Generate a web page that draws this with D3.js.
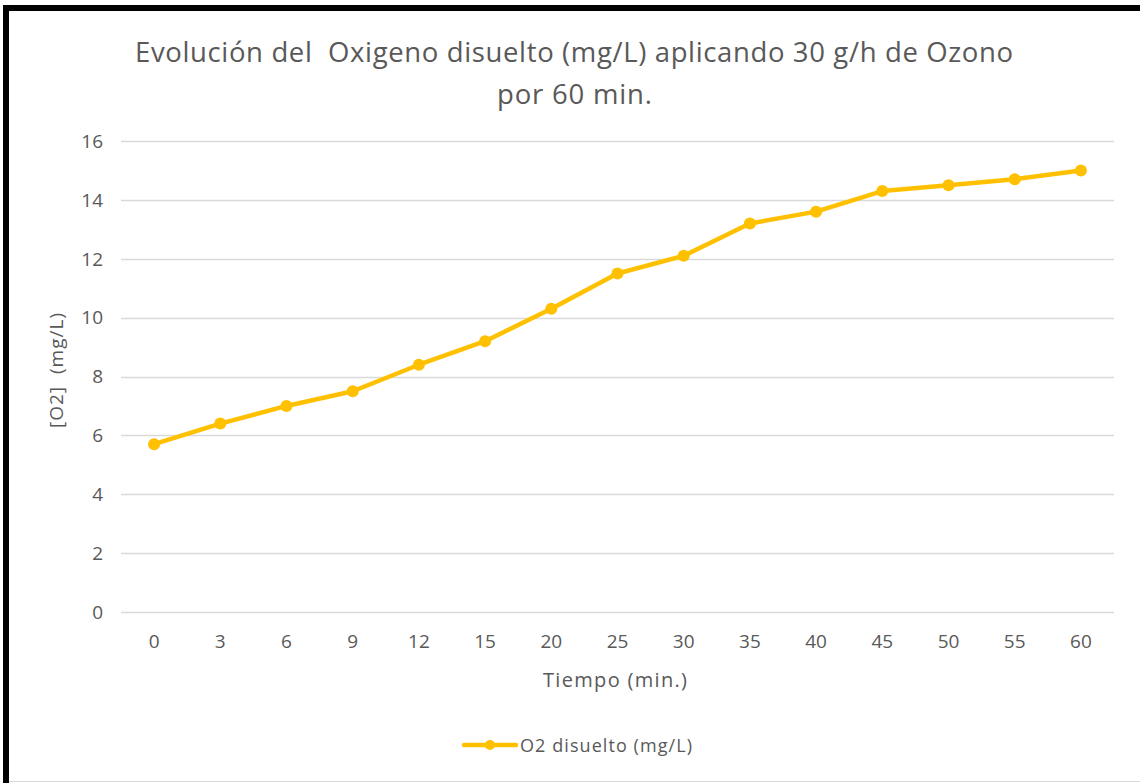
<!DOCTYPE html>
<html>
<head>
<meta charset="utf-8">
<script src="https://cdn.jsdelivr.net/npm/d3@7"></script>
<style>
  body { margin: 0; background: #fff; }
  svg { display: block; font-family: 'Open Sans', Lato, sans-serif; }
</style>
</head>
<body>
<svg width="1140" height="783"></svg>
<script>
const times = ['0', '3', '6', '9', '12', '15', '20', '25', '30', '35', '40', '45', '50', '55', '60']
const oxygen = [5.7, 6.4, 7.0, 7.5, 8.4, 9.2, 10.3, 11.5, 12.1, 13.2, 13.6, 14.3, 14.5, 14.7, 15.0]
const yTicks = [0, 2, 4, 6, 8, 10, 12, 14, 16]

let svg = d3.select('svg')
const width = 1140
const height = 783
const margin = { left: 121, right: 26, top: 141, bottom: 171 }
const textColor = '#595959'
const lineColor = '#FFC000'

// frame: thick black at left/top, thin grey at bottom
svg.append('rect').attr('width', width).attr('height', height).attr('fill', '#fff')
svg.append('line').attr('x1', 6).attr('x2', 6).attr('y1', 5).attr('y2', height)
  .attr('stroke', '#000').attr('stroke-width', 6)
svg.append('line').attr('x1', 3).attr('x2', width).attr('y1', 8).attr('y2', 8)
  .attr('stroke', '#000').attr('stroke-width', 6)
svg.append('line').attr('x1', 9).attr('x2', width).attr('y1', 781.5).attr('y2', 781.5)
  .attr('stroke', '#d9d9d9').attr('stroke-width', 1)

const x = d3.scalePoint()
  .domain(times)
  .range([margin.left, width - margin.right])
  .padding(0.5)

const y = d3.scaleLinear()
  .domain([0, 16])
  .range([height - margin.bottom, margin.top])

// gridlines
svg.append('g')
  .selectAll('line')
  .data(yTicks)
  .enter()
  .append('line')
  .attr('x1', margin.left)
  .attr('x2', width - margin.right)
  .attr('y1', d => Math.round(y(d)) + 0.5)
  .attr('y2', d => Math.round(y(d)) + 0.5)
  .attr('stroke', '#d9d9d9')
  .attr('stroke-width', 1.5)

// y tick labels
svg.append('g')
  .selectAll('text')
  .data(yTicks)
  .enter()
  .append('text')
  .attr('x', 103)
  .attr('y', d => y(d))
  .attr('dy', '0.36em')
  .attr('text-anchor', 'end')
  .attr('font-size', 19)
  .attr('fill', textColor)
  .text(d => d)

// x tick labels
svg.append('g')
  .selectAll('text')
  .data(times)
  .enter()
  .append('text')
  .attr('x', d => x(d))
  .attr('y', 648)
  .attr('text-anchor', 'middle')
  .attr('font-size', 19)
  .attr('fill', textColor)
  .text(d => d)

// axis titles
svg.append('text')
  .attr('x', 543)
  .attr('y', 687)
  .attr('font-size', 20)
  .attr('fill', textColor)
  .attr('textLength', 144)
  .attr('lengthAdjust', 'spacing')
  .text('Tiempo (min.)')

svg.append('text')
  .attr('transform', 'translate(63, 428) rotate(-90)')
  .attr('font-size', 19)
  .attr('fill', textColor)
  .attr('textLength', 115)
  .attr('lengthAdjust', 'spacing')
  .style('white-space', 'pre')
  .text('[O2]  (mg/L)')

// title
const title = svg.append('text')
  .attr('font-size', 27.5)
  .attr('fill', textColor)
  .style('white-space', 'pre')
title.append('tspan').attr('x', 135).attr('y', 62)
  .attr('textLength', 878).attr('lengthAdjust', 'spacing')
  .text('Evolución del  Oxigeno disuelto (mg/L) aplicando 30 g/h de Ozono')
title.append('tspan').attr('x', 497).attr('y', 104)
  .attr('textLength', 155).attr('lengthAdjust', 'spacing')
  .text('por 60 min.')

// series
const line = d3.line()
  .x((d, i) => x(times[i]))
  .y(d => y(d))

svg.append('path')
  .datum(oxygen)
  .attr('d', line)
  .attr('fill', 'none')
  .attr('stroke', lineColor)
  .attr('stroke-width', 4.5)
  .attr('stroke-linejoin', 'round')
  .attr('stroke-linecap', 'round')

svg.append('g')
  .selectAll('circle')
  .data(oxygen)
  .enter()
  .append('circle')
  .attr('cx', (d, i) => x(times[i]))
  .attr('cy', d => y(d))
  .attr('r', 6)
  .attr('fill', lineColor)

// legend
let legend = svg.append('g').attr('id', 'legend')
legend.append('line')
  .attr('x1', 464).attr('x2', 516).attr('y1', 745).attr('y2', 745)
  .attr('stroke', lineColor).attr('stroke-width', 4.5).attr('stroke-linecap', 'round')
legend.append('circle')
  .attr('cx', 490).attr('cy', 745).attr('r', 5).attr('fill', lineColor)
legend.append('text')
  .attr('x', 520).attr('y', 752)
  .attr('font-size', 18)
  .attr('fill', textColor)
  .attr('textLength', 172)
  .attr('lengthAdjust', 'spacing')
  .text('O2 disuelto (mg/L)')
</script>
</body>
</html>
